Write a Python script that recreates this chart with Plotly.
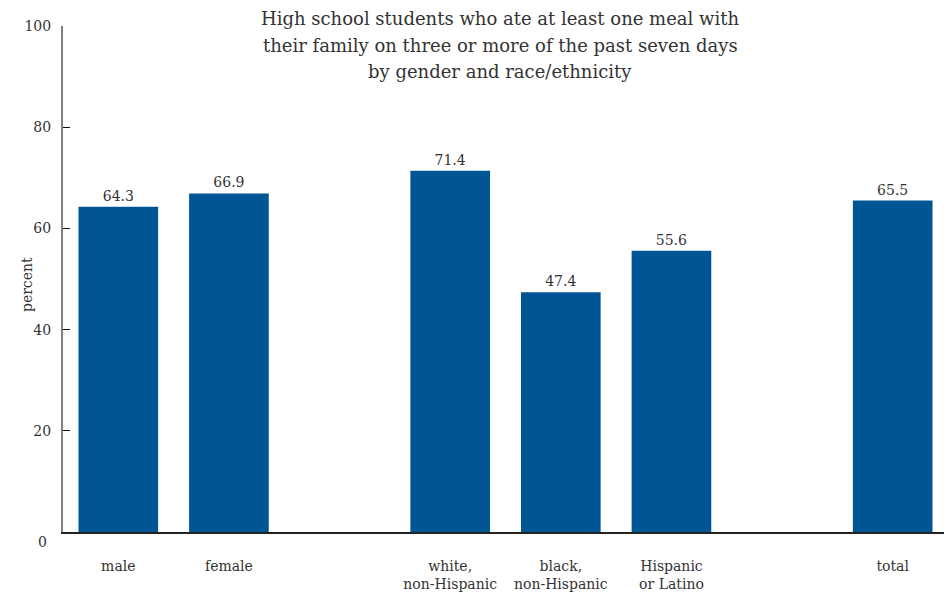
import plotly.graph_objects as go

categories = ["male", "female", " ", "white,<br>non-Hispanic", "black,<br>non-Hispanic",
              "Hispanic<br>or Latino", "  ", "total"]
values = [64.3, 66.9, None, 71.4, 47.4, 55.6, None, 65.5]
y_tick_vals = [20, 40, 60, 80, 100]
y_tick_text = ["20", "40", "60", "80", "100"]
title_lines = ["High school students who ate at least one meal with",
               "their family on three or more of the past seven days",
               "by gender and race/ethnicity"]

FONT = "'DejaVu Serif', serif"
TXT = "#333333"
BAR = "#005595"

# page body has an 8px default margin, so the figure is sized to fit the window
W, H, OFF = 944, 590, 8

fig = go.Figure()
fig.add_trace(go.Bar(
    x=categories, y=values,
    marker=dict(color=BAR, line=dict(width=0)),
    text=[f"{v:.1f}" if v is not None else "" for v in values],
    textposition="outside",
    textfont=dict(family=FONT, size=14, color=TXT),
    cliponaxis=False,
    hoverinfo="skip",
))

fig.update_layout(
    width=W, height=H,
    margin=dict(l=63 - OFF, r=4, t=26 - OFF, b=66, autoexpand=False),
    plot_bgcolor="white", paper_bgcolor="white",
    showlegend=False,
    bargap=0.28,
    font=dict(family=FONT, size=14, color=TXT),
    xaxis=dict(type="category", categoryorder="array", categoryarray=categories,
               showline=True, linecolor="#222222", linewidth=1.5,
               ticks="", showgrid=False, zeroline=False, automargin=False,
               tickfont=dict(family=FONT, size=14, color=TXT),
               ticklabelstandoff=20),
    yaxis=dict(range=[0, 100], tickvals=y_tick_vals, ticktext=y_tick_text,
               showline=True, linecolor="#808080", linewidth=2,
               ticks="inside", ticklen=7, tickcolor="#111111", tickwidth=1,
               showgrid=False, zeroline=False, automargin=False,
               tickfont=dict(family=FONT, size=14, color=TXT),
               ticklabelstandoff=7),
)

# title lines, spaced like the reference
for line, shift in zip(title_lines, [8, -19, -45]):
    fig.add_annotation(x=(500 - 63) / (952 - 63 - 4), xref="paper", y=1, yref="paper",
                       yshift=shift, xanchor="center", yanchor="middle",
                       text=line, showarrow=False,
                       font=dict(family=FONT, size=18, color=TXT))

fig.add_annotation(x=0, xref="paper", y=0.488, yref="paper", text="percent",
                   textangle=-90, xshift=-36, xanchor="center", yanchor="middle",
                   showarrow=False, font=dict(family=FONT, size=14, color=TXT))

fig.add_annotation(x=0, xref="paper", y=0, yref="y", text="0",
                   xanchor="right", yanchor="middle", xshift=-14, yshift=-10,
                   showarrow=False, font=dict(family=FONT, size=14, color=TXT))

fig.write_html("out.html")
